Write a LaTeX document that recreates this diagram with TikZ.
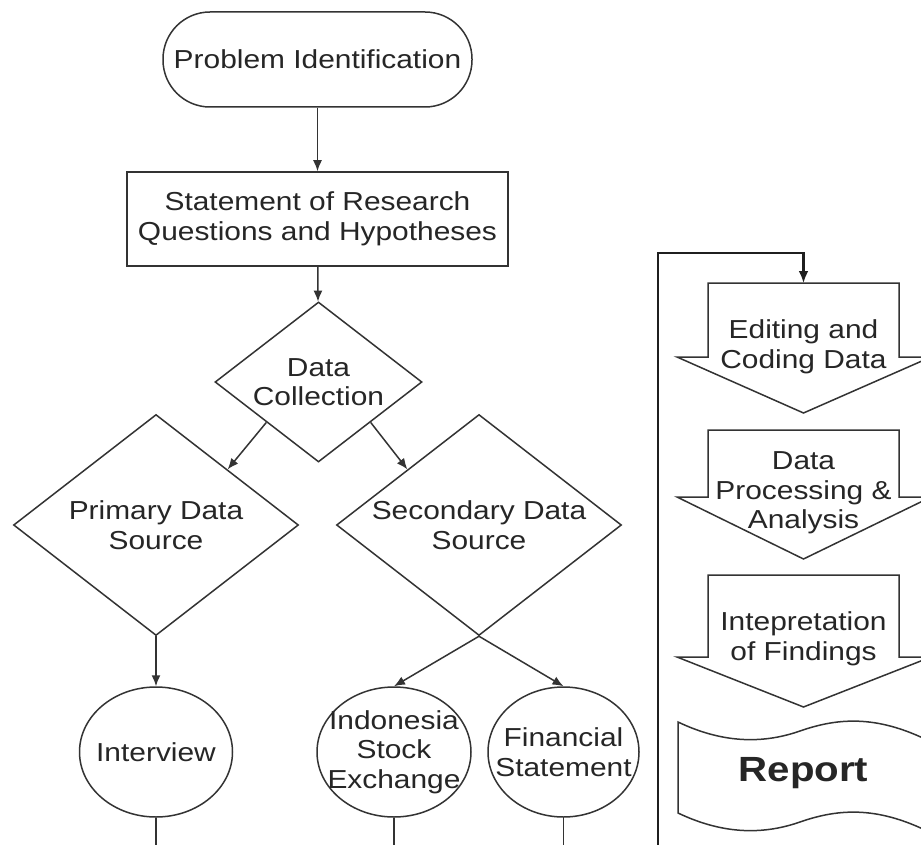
\documentclass[tikz,border=0pt]{standalone}
\usepackage{fontspec}
\setmainfont{Liberation Sans}[FakeStretch=1.15]
\usetikzlibrary{shapes.geometric,arrows.meta}
\definecolor{ink}{HTML}{333333}
\definecolor{txt}{HTML}{262626}
\begin{document}
\begin{tikzpicture}[x=1pt,y=-1pt,
  lbl/.style={text=txt, align=center, font=\fontsize{26}{29.5}\selectfont},
  base/.style={draw=ink, line width=1.5pt, inner sep=0pt, fill=white},
  term/.style={base, rectangle, rounded corners=47pt, minimum width=309pt, minimum height=95pt},
  procbox/.style={base, rectangle, minimum width=381pt, minimum height=94pt},
  dec/.style={base, diamond},
  circ/.style={base, ellipse, minimum width=153pt, minimum height=130pt},
  shp/.style={draw=ink, line width=1.5pt, line join=miter},
  arr/.style={draw=ink, line width=1.5pt, -{Latex[length=11pt,width=9pt]}},
  plain/.style={draw=ink, line width=1.5pt},
  loopline/.style={draw=ink!60!black, line width=2.6pt},
]
\path[use as bounding box, clip] (0,0) rectangle (921,845);
\fill[white] (0,0) rectangle (921,845);

% left column
\node[term, label={[lbl]center:Problem Identification}] (prob) at (317.5,59.5) {};
\node[procbox, label={[lbl]center:Statement of Research\\Questions and Hypotheses}] (stmt) at (317.5,219) {};
\node[dec, minimum width=207pt, minimum height=160pt, label={[lbl]center:Data\\Collection}] (dc) at (318.5,382) {};
\node[dec, minimum width=285pt, minimum height=221pt, label={[lbl]center:Primary Data\\Source}] (pri) at (156,525) {};
\node[dec, minimum width=285pt, minimum height=221pt, label={[lbl]center:Secondary Data\\Source}] (sec) at (479,525) {};
\node[circ, label={[lbl]center:Interview}] (intv) at (156,752) {};
\node[circ, minimum width=154pt, label={[lbl]center:Indonesia\\Stock\\Exchange}] (idx) at (394,752) {};
\node[circ, minimum width=151pt, label={[lbl]center:Financial\\Statement}] (fin) at (563.5,752) {};

\draw[arr] (prob) -- (stmt);
\draw[arr] (stmt) -- (dc);
\draw[arr] (dc.south west) -- (pri.north east);
\draw[arr] (dc.south east) -- (sec.north west);
\draw[arr] (pri) -- (intv);
\draw[arr] (sec.south) -- (idx.north);
\draw[arr] (sec.south) -- (fin.north);

\coordinate (b1) at (156,846);
\coordinate (b2) at (394,846);
\coordinate (b3) at (563.5,846);
\draw[plain] (intv.south) -- (b1);
\draw[plain] (idx.south) -- (b2);
\draw[plain] (fin.south) -- (b3);

% right column: down-arrow shapes
\draw[shp] (708,283) coordinate (edtop) -- (899,283) -- (899,357) -- (931,357) -- (803.5,413) -- (677,357) -- (708,357) -- cycle;
\node[lbl] (edit) at (803.5,347) {Editing and\\Coding Data};

\draw[shp] (708,430) -- (899,430) -- (899,497) -- (931,497) -- (803.5,559) -- (677,497) -- (708,497) -- cycle;
\node[lbl] (procn) at (803.5,493) {Data\\Processing \&\\Analysis};

\draw[shp] (708,575) -- (899,575) -- (899,657) -- (931,657) -- (803.5,707) -- (677,657) -- (708,657) -- cycle;
\node[lbl] (interp) at (803.5,639) {Intepretation\\of Findings};

% report document shape
\draw[shp] (678,722) .. controls (720,742) and (760,745) .. (800,731)
  .. controls (840,717) and (880,715) .. (935,744)
  -- (935,835)
  .. controls (880,806) and (840,808) .. (800,822)
  .. controls (760,836) and (720,833) .. (678,813) -- cycle;
\node[text=txt, font=\fontsize{35}{40}\selectfont\bfseries] (report) at (803.5,773) {Report};

% loop connector
\coordinate (lp0) at (658,846);
\coordinate (lp1) at (658,253);
\coordinate (edin) at (803.5,283);
\draw[loopline, line join=miter, -{Latex[length=12pt,width=10pt]}] (lp0) -- (lp1) -- (edin |- lp1) -- (edin);
\end{tikzpicture}
\end{document}
